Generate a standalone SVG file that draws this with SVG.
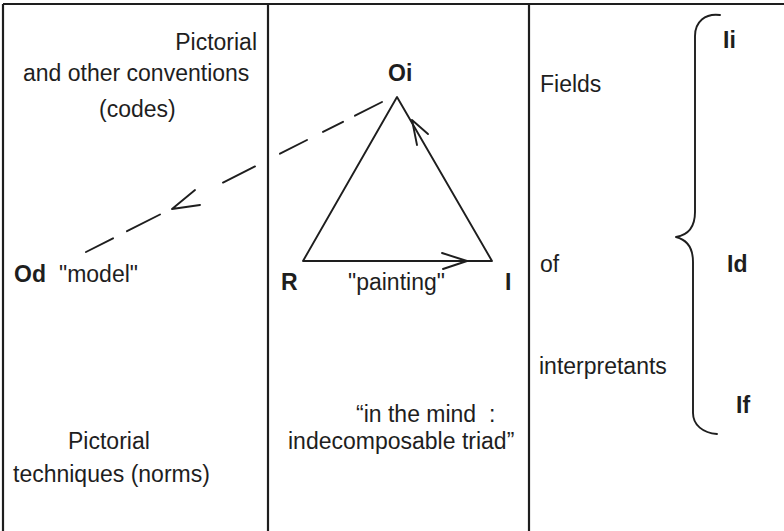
<svg xmlns="http://www.w3.org/2000/svg" width="784" height="531" viewBox="0 0 784 531">
<style>
text{font-family:"Liberation Sans",Arial,sans-serif;font-size:23px;fill:#1e1e1e;white-space:pre}
.b{font-weight:bold}
.frame{stroke:#1e1e1e;stroke-width:2.2;fill:none}
.ln{stroke:#1e1e1e;stroke-width:1.9;fill:none;stroke-linecap:round;stroke-linejoin:round}
</style>
<rect width="784" height="531" fill="#fff"/>
<g id="frame">
<path class="frame" d="M3,4H784M3,4V531M268,4V531M529,4V531"/>
</g>
<g id="col-left">
<text x="257" y="50" text-anchor="end">Pictorial</text>
<text x="23" y="81">and other conventions</text>
<text x="99" y="117">(codes)</text>
<text x="68" y="449">Pictorial</text>
<text x="13" y="482">techniques (norms)</text>
</g>
<g id="node-Od"><text class="b" x="14" y="282">Od</text><text x="59" y="282">"model"</text></g>
<g id="node-Oi"><text class="b" x="388" y="81">Oi</text></g>
<g id="node-R"><text class="b" x="281" y="290">R</text></g>
<g id="node-I"><text class="b" x="505" y="290">I</text></g>
<g id="label-painting"><text x="348" y="290">"painting"</text></g>
<g id="label-mind">
<text x="356" y="422">“in the mind  :</text>
<text x="288" y="449">indecomposable triad”</text>
</g>
<g id="col-right">
<text x="540" y="92">Fields</text>
<text x="540" y="272">of</text>
<text x="539" y="374">interpretants</text>
</g>
<g id="node-Ii"><text class="b" x="723" y="48">Ii</text></g>
<g id="node-Id"><text class="b" x="727" y="272">Id</text></g>
<g id="node-If"><text class="b" x="736" y="413">If</text></g>
<g id="brace">
<path class="ln" d="M720,15C705,13 695,22 695,36L695,212C695,228 688,235 676,237C688,240 693,248 693,262L693,413C693,425 703,433 717,434"/>
</g>
<g id="connectors">
<path class="ln" d="M397,97L303,261L492,261Z"/>
<path class="ln" d="M412,120L428,134M412,120L417,145"/>
<path class="ln" d="M467,261L442,253M467,261L443,269"/>
<path class="ln" d="M382,102L355,115.7M343,121.8L323,131.9M307,140L280,153.7M255,166.4L223,182.6M160,214.5L127,231.2M113,238.3L86,252"/>
<path class="ln" d="M172,209L195,190M172,209L200,205"/>
</g>
</svg>
